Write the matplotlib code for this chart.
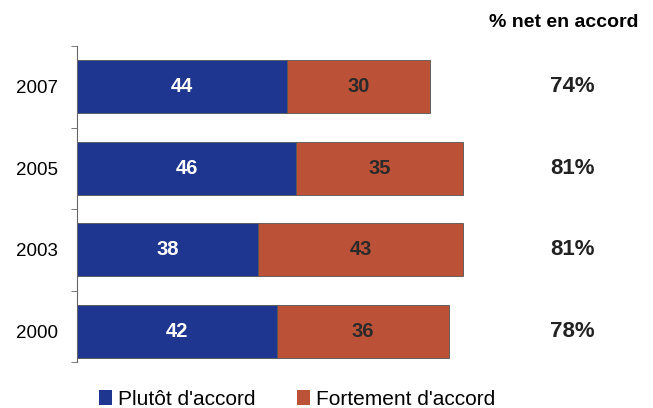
import numpy as np
import matplotlib
matplotlib.use('Agg')
from matplotlib import pyplot as plt
from matplotlib.patches import Patch

plt.rcParams['font.family'] = ['Liberation Sans', 'DejaVu Sans']

years = ['2007', '2005', '2003', '2000']
plutot = [44, 46, 38, 42]
fortement = [30, 35, 43, 36]
net = ['74%', '81%', '81%', '78%']

blue = '#1e3690'
red = '#bb5238'

fig = plt.figure(figsize=(6.53, 4.08), dpi=100)
ax = fig.add_axes([0.118, 0.088, 0.73, 0.799])

y = np.arange(len(years))[::-1]
ax.barh(y, plutot, height=0.65, color=blue, edgecolor='#555555', linewidth=0.6)
ax.barh(y, fortement, left=plutot, height=0.65, color=red, edgecolor='#555555', linewidth=0.6)

for yi, p, f in zip(y, plutot, fortement):
    ax.text(p / 2, yi, str(p), ha='center', va='center', color='white',
            fontsize=14.5, fontweight='bold')
    ax.text(p + f / 2, yi, str(f), ha='center', va='center', color='#2a2a2a',
            fontsize=14.5, fontweight='bold')

ax.set_xlim(0, 100)
ax.set_ylim(-0.5, 3.5)
ax.set_xticks([])
ax.set_yticks(y)
ax.set_yticklabels(years, fontsize=13.5)
ax.set_yticks([-0.38, 0.5, 1.5, 2.5, 3.5], minor=True)
ax.tick_params(axis='y', which='major', length=0, pad=14)
ax.tick_params(axis='y', which='minor', length=4, color='#666666')
for s in ['top', 'right', 'bottom']:
    ax.spines[s].set_visible(False)
ax.spines['left'].set_color('#666666')
ax.spines['left'].set_bounds(-0.38, 3.5)

# net agreement column
fig.text(0.864, 0.945, '% net en accord', ha='center', va='center',
         fontsize=14, fontweight='bold')
for yi, n in zip(y, net):
    yd = ax.transData.transform((0, yi))[1]
    yf = fig.transFigure.inverted().transform((0, yd))[1]
    fig.text(0.876, yf, n, ha='center', va='center', fontsize=16, fontweight='bold',
             color='#222222')

handles = [Patch(facecolor=blue, edgecolor='none'), Patch(facecolor=red, edgecolor='none')]
fig.legend(handles, ["Plutôt d'accord", "Fortement d'accord"], loc='center',
           bbox_to_anchor=(0.455, 0.022), ncol=2, frameon=False, fontsize=15,
           handlelength=0.6, handleheight=0.7, handletextpad=0.3, columnspacing=2.0)

fig.savefig('out.png', dpi=100)
